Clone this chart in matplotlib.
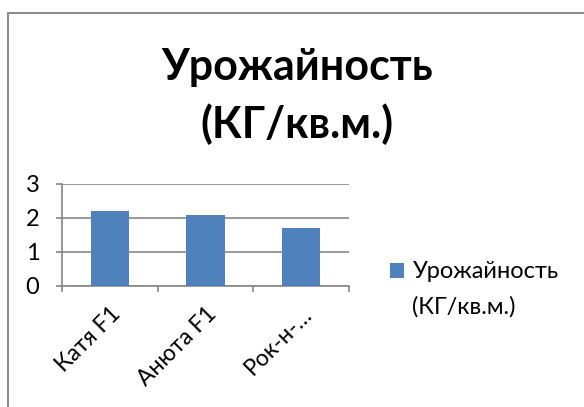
import matplotlib.pyplot as plt
from matplotlib.patches import Rectangle

plt.rcParams['font.family'] = ['Lato', 'DejaVu Sans']

varieties = ["Катя F1", "Анюта F1", "Рок-н-…"]
yields = [2.2, 2.1, 1.7]
series_name = ["Урожайность", "(КГ/кв.м.)"]
title = "Урожайность\n(КГ/кв.м.)"

bar_color = "#4F81BD"
grid_color = "#868686"

fig = plt.figure(figsize=(5.84, 4.07), dpi=100)
ax = fig.add_axes([62 / 584, 1 - 286 / 407, (349 - 62) / 584, (286 - 184) / 407])

x = range(len(varieties))
bars = ax.bar(x, yields, width=0.4, color=bar_color, zorder=3)

ax.set_xlim(-0.5, len(varieties) - 0.5)
ax.set_ylim(0, 3)
ax.set_yticks([0, 1, 2, 3])
ax.yaxis.grid(True, color=grid_color, linewidth=1.2, zorder=0)

for side in ["top", "right"]:
    ax.spines[side].set_visible(False)
for side in ["left", "bottom"]:
    ax.spines[side].set_color(grid_color)
    ax.spines[side].set_linewidth(1.2)

ax.tick_params(axis="y", length=4.3, width=1.2, color=grid_color, pad=12, labelsize=17)
ax.set_xticks([i - 0.5 for i in range(len(varieties) + 1)])
ax.set_xticklabels([])
ax.tick_params(axis="x", length=4.3, width=1.2, color=grid_color)

for i, name in enumerate(varieties):
    ax.text(i + 0.0, -0.5, name, rotation=45, ha="right", va="top", fontsize=16.5,
            rotation_mode="anchor")

fig.text(0.508, 1 - 96 / 407, title, ha="center", va="center", fontsize=31,
         fontweight="bold", linespacing=1.47)

leg = fig.legend(handles=[bars], labels=[series_name[0]], loc="center left",
                 bbox_to_anchor=(390 / 584, 1 - 272 / 407), frameon=False,
                 fontsize=17, handlelength=0.6, handleheight=0.6, handletextpad=0.35,
                 borderpad=0, borderaxespad=0)

# second line of the legend label, placed under the first one
fig.canvas.draw()
tb = leg.get_texts()[0].get_window_extent()
fig.text(tb.x0 / 584, (tb.y0 + tb.y1) / 2 / 407 - 35 / 407, series_name[1],
         ha="left", va="center", fontsize=17)

fig.patches.append(Rectangle((8 / 584, -0.2), 1.2, 1.2 - 13 / 407, transform=fig.transFigure,
                             fill=False, edgecolor="#8c8c8c", linewidth=1.5))

fig.savefig("out.png", dpi=100)
